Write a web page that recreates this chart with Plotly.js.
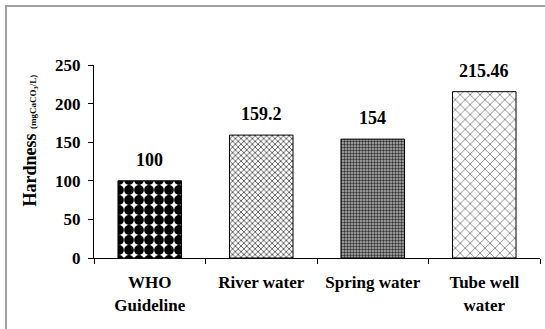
<!DOCTYPE html>
<html>
<head>
<meta charset="utf-8">
<script src="https://cdn.plot.ly/plotly-3.0.1.min.js"></script>
<style>
html,body{margin:0;padding:0;background:#fff;overflow:hidden;width:545px;height:329px;}
#wrap{position:relative;width:545px;height:329px;overflow:hidden;}
#frame{position:absolute;left:5px;top:5px;width:700px;height:500px;border:2px solid #a0a0a0;box-sizing:border-box;}
#chart{position:absolute;left:0;top:0;width:545px;height:329px;}
</style>
</head>
<body>
<div id="wrap"><div id="frame"></div><div id="chart"></div></div>
<script>
const categories = ["WHO<br>Guideline", "River water", "Spring water", "Tube well<br>water"];
const hardness = [100, 159.2, 154, 215.46];
const valueLabels = ["100", "159.2", "154", "215.46"];
const yTicks = [0, 50, 100, 150, 200, 250];

const FONT = "Liberation Serif";

const patterns = [
  {shape: ".", fgcolor: "#000000", bgcolor: "#ffffff", size: 10, solidity: 0.75},
  {shape: "x", fgcolor: "#555555", bgcolor: "#ffffff", size: 4, solidity: 0.4},
  {shape: ".", fgcolor: "#333333", bgcolor: "#b5b5b5", size: 3, solidity: 0.5},
  {shape: "x", fgcolor: "#888888", bgcolor: "#ffffff", size: 7, solidity: 0.25}
];

const traces = categories.map((c, i) => ({
  type: "bar",
  x: [c],
  y: [hardness[i]],
  width: 0.57,
  marker: {
    color: patterns[i].bgcolor,
    line: {color: "#000", width: 1},
    pattern: {
      shape: patterns[i].shape,
      fgcolor: patterns[i].fgcolor,
      bgcolor: patterns[i].bgcolor,
      size: patterns[i].size,
      solidity: patterns[i].solidity,
      fillmode: "replace"
    }
  },
  hoverinfo: "none"
}));

const annotations = categories.map((c, i) => ({
  x: c, y: hardness[i], xref: "x", yref: "y",
  text: "<b>" + valueLabels[i] + "</b>",
  showarrow: false, yanchor: "bottom", yshift: 9,
  font: {family: FONT, size: 18, color: "#000"}
}));

annotations.push({
  xref: "paper", yref: "paper", x: -0.143, y: 0.61,
  xanchor: "center", yanchor: "middle", textangle: -90, showarrow: false,
  text: "<b>Hardness</b> <span style='font-size:9px'><b>(mgCaCO<sub>3</sub>/L)</b></span>",
  font: {family: FONT, size: 18, color: "#000"}
});

const layout = {
  width: 545, height: 329, autosize: false,
  margin: {l: 94, r: 5, t: 65, b: 71, pad: 0, autoexpand: false},
  paper_bgcolor: "rgba(0,0,0,0)", plot_bgcolor: "rgba(0,0,0,0)",
  showlegend: false,
  barmode: "overlay",
  font: {family: FONT, color: "#000"},
  xaxis: {
    type: "category",
    categoryorder: "array", categoryarray: categories,
    tickvals: categories,
    ticktext: categories.map(c => "<b>" + c + "</b>"),
    showline: true, linecolor: "#000", linewidth: 1,
    ticks: "outside", ticklen: 5, tickcolor: "#000",
    tickson: "boundaries",
    showgrid: false, zeroline: false,
    automargin: false,
    tickfont: {family: FONT, size: 17, color: "#000"},
    ticklabelstandoff: 9
  },
  yaxis: {
    range: [0, 250],
    tickvals: yTicks,
    ticktext: yTicks.map(v => "<b>" + v + "</b>"),
    showline: true, linecolor: "#000", linewidth: 1,
    ticks: "outside", ticklen: 5, tickcolor: "#000",
    showgrid: false, zeroline: false,
    automargin: false,
    tickfont: {family: FONT, size: 17, color: "#000"},
    ticklabelstandoff: 4
  },
  annotations: annotations
};

Plotly.newPlot("chart", traces, layout, {staticPlot: true, displayModeBar: false});
</script>
</body>
</html>
